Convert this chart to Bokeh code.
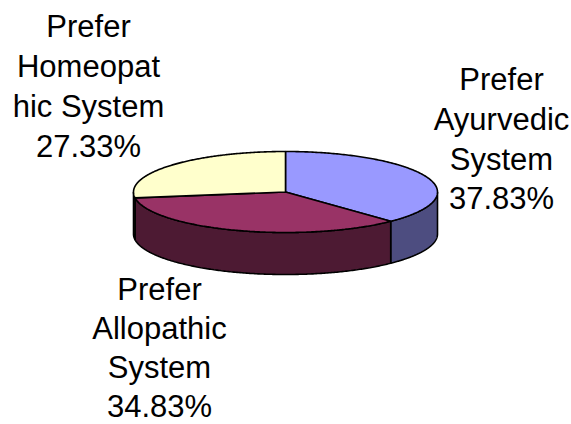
import numpy as np
from bokeh.plotting import figure
from bokeh.embed import file_html
from bokeh.resources import INLINE
from bokeh.core.properties import value

categories = ["Ayurvedic", "Allopathic", "Homeopathic"]
shares = [37.83, 34.83, 27.33]
top_colors = ["#9999FF", "#993366", "#FFFFCC"]
side_colors = ["#4D4D80", "#4D1A33", "#808066"]
label_lines = [["Prefer", "Ayurvedic", "System", "37.83%"],
               ["Prefer", "Allopathic", "System", "34.83%"],
               ["Prefer", "Homeopat", "hic System", "27.33%"]]

W, H = 571, 424
CX, CY, RX, RY, D = 285, 191.5, 152, 40.5, 42
p = figure(width=W, height=H, x_range=(0, W), y_range=(H, 0), output_backend="svg",
           toolbar_location=None, min_border=0, outline_line_color=None,
           background_fill_color="white", border_fill_color="white")
p.axis.visible = False
p.grid.visible = False

fr = np.cumsum([0] + shares) / sum(shares) * 2 * np.pi
for i in range(3):
    s = np.linspace(max(fr[i], np.pi / 2), min(fr[i + 1], 3 * np.pi / 2), 200)
    if s[-1] > s[0]:
        sx = CX + RX * np.sin(s)
        sy = CY - RY * np.cos(s)
        p.patch(np.r_[sx, sx[::-1]], np.r_[sy, sy[::-1] + D], fill_color=side_colors[i],
                line_color="black", line_width=1.6)
for i in range(3):
    a = np.linspace(fr[i], fr[i + 1], 200)
    x = CX + RX * np.sin(a)
    y = CY - RY * np.cos(a)
    p.patch(np.r_[CX, x], np.r_[CY, y], fill_color=top_colors[i], line_color="black", line_width=1.6)

anchors = [(501, 79), (159, 289), (88, 26)]
gaps = [39.8, 39.0, 40.0]
for lines, (ax, ay), gap in zip(label_lines, anchors, gaps):
    for j, t in enumerate(lines):
        p.text([ax], [ay + j * gap], text=[t], text_font=value("Liberation Sans"),
               text_font_size="31px", text_align="center", text_baseline="middle", text_color="black")

open("out.html", "w").write(file_html(p, INLINE))
